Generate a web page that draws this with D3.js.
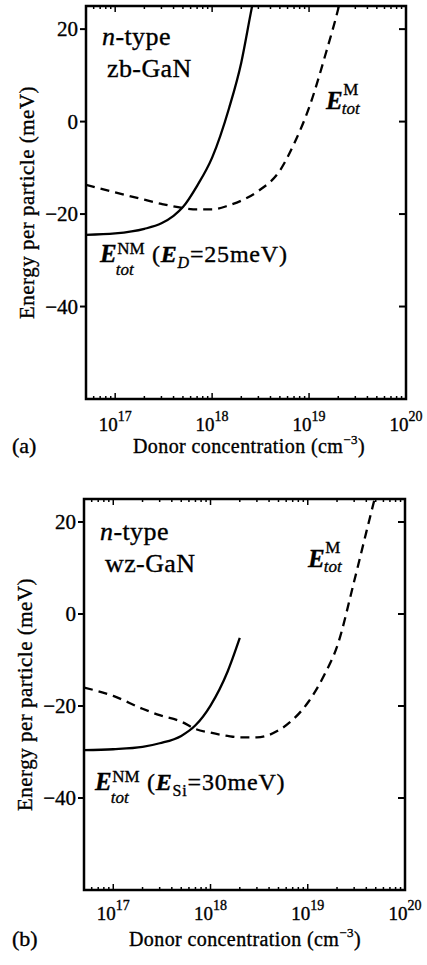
<!DOCTYPE html>
<html>
<head>
<meta charset="utf-8">
<script src="https://cdn.jsdelivr.net/npm/d3@7"></script>
<style>
  body { margin: 0; background: #fff; }
  svg text { font-family: "Liberation Serif", "DejaVu Serif", Times, serif; fill: #000; stroke: #000; stroke-width: 0.35px; }
</style>
</head>
<body>
<script>
// donor concentration (cm^-3) and energy per particle (meV)
// (a) zb-GaN
const zbNMConc   = [5e16, 1e17, 2e17, 3e17, 4e17, 5e17, 7e17, 1e18, 1.5e18, 2e18, 2.5e18, 2.7e18];
const zbNMEnergy = [-24.5, -24.2, -23.2, -22.0, -20.4, -18.5, -13.9, -7.8, 3.0, 12.8, 23.4, 27];
const zbMConc    = [5e16, 1e17, 2e17, 3e17, 5e17, 7e17, 1e18, 1.5e18, 2e18, 3e18, 5e18, 7e18, 1e19, 1.5e19, 2e19, 2.2e19];
const zbMEnergy  = [-13.7, -15.3, -16.9, -17.8, -18.7, -19.0, -19.0, -18.1, -17.1, -15.0, -10.6, -4.8, 3.0, 15.0, 24.4, 28];
// (b) wz-GaN
const wzNMConc   = [5e16, 1e17, 2e17, 3e17, 5e17, 7e17, 1e18, 1.5e18, 2e18];
const wzNMEnergy = [-29.6, -29.4, -28.9, -28.1, -26.5, -24.2, -19.9, -12.5, -5.2];
const wzMConc    = [5e16, 1e17, 2e17, 3e17, 5e17, 7e17, 1e18, 1.5e18, 2e18, 3e18, 5e18, 7e18, 1e19, 1.5e19, 2e19, 3e19, 4e19, 5e19];
const wzMEnergy  = [-16.0, -17.8, -20.6, -22.0, -23.4, -25.0, -25.8, -26.5, -26.8, -26.8, -25.3, -23.0, -19.3, -13.0, -7.1, 7.1, 17.8, 26];

const xDomain = [5e16, 1e20];
const yDomain = [-60, 25];
const yTicks = [20, 0, -20, -40];
const xDecades = [17, 18, 19, 20];

const width = 427, height = 965;
const serif = "'Liberation Serif', 'DejaVu Serif', Times, serif";

const svg = d3.select("body").append("svg")
    .attr("width", width)
    .attr("height", height)
    .attr("font-family", serif);

const panels = [
    { key: "a", tag: "(a)", material: "zb-GaN",
      nm: [zbNMConc, zbNMEnergy], m: [zbMConc, zbMEnergy],
      left: 86, right: 406, top: 6, bottom: 399,
      tickY: 431, titleY: 453, titleX: 249, ylabX: 27,
      matY: 45, mLab: [326, 109], nmLab: [100, 262], tailX: 152, tailSub: "D", subItalic: true, tailVal: "25" },
    { key: "b", tag: "(b)", material: "wz-GaN",
      nm: [wzNMConc, wzNMEnergy], m: [wzMConc, wzMEnergy],
      left: 84, right: 405, top: 499, bottom: 890,
      tickY: 920, titleY: 946, titleX: 245, ylabX: 25,
      matY: 540, mLab: [308, 567], nmLab: [95, 790], tailX: 147, tailSub: "Si", subItalic: false, tailVal: "30" }
];

panels.forEach(function(p) {
    const x = d3.scaleLog().domain(xDomain).range([p.left, p.right]);
    const y = d3.scaleLinear().domain(yDomain).range([p.bottom, p.top]);
    const g = svg.append("g").attr("class", "panel-" + p.key);

    g.append("clipPath").attr("id", "clip-" + p.key)
        .append("rect")
        .attr("x", p.left).attr("y", p.top)
        .attr("width", p.right - p.left).attr("height", p.bottom - p.top);

    // minor + major ticks on top and bottom (pointing inside)
    const minor = [];
    for (let e = 16; e < 20; e++) {
        for (let m = 1; m < 10; m++) {
            const v = m * Math.pow(10, e);
            if (v >= xDomain[0] && v <= xDomain[1]) minor.push(v);
        }
    }
    minor.push(1e20);
    minor.forEach(function(v) {
        const major = Math.abs(Math.log10(v) - Math.round(Math.log10(v))) < 1e-9;
        const len = major ? 6 : 3;
        g.append("line")
            .attr("x1", x(v)).attr("x2", x(v))
            .attr("y1", p.bottom).attr("y2", p.bottom - len)
            .attr("stroke", "#000").attr("stroke-width", 1.5);
        g.append("line")
            .attr("x1", x(v)).attr("x2", x(v))
            .attr("y1", p.top).attr("y2", p.top + len)
            .attr("stroke", "#000").attr("stroke-width", 1.5);
    });

    // y ticks: outward on the left, inward on the right
    yTicks.forEach(function(v) {
        g.append("line")
            .attr("x1", p.left - 6).attr("x2", p.left)
            .attr("y1", y(v)).attr("y2", y(v))
            .attr("stroke", "#000").attr("stroke-width", 2);
        g.append("line")
            .attr("x1", p.right - 7).attr("x2", p.right)
            .attr("y1", y(v)).attr("y2", y(v))
            .attr("stroke", "#000").attr("stroke-width", 2);
        g.append("text")
            .attr("x", p.left - 8)
            .attr("y", y(v))
            .attr("dy", "0.35em")
            .attr("text-anchor", "end")
            .attr("font-size", 21)
            .text(v < 0 ? "\u2212" + Math.abs(v) : v);
    });

    // x tick labels 10^n
    xDecades.forEach(function(d) {
        const t = g.append("text")
            .attr("x", x(Math.pow(10, d)))
            .attr("y", p.tickY)
            .attr("text-anchor", "middle")
            .attr("font-size", 19);
        t.append("tspan").text("10");
        t.append("tspan").attr("dy", -10).attr("font-size", 14).text(d);
    });

    // frame
    g.append("rect")
        .attr("x", p.left).attr("y", p.top)
        .attr("width", p.right - p.left).attr("height", p.bottom - p.top)
        .attr("fill", "none").attr("stroke", "#000").attr("stroke-width", 2.5);

    // curves
    const line = d3.line()
        .x(function(d) { return x(d[0]); })
        .y(function(d) { return y(d[1]); })
        .curve(d3.curveMonotoneX);

    const curves = g.append("g").attr("clip-path", "url(#clip-" + p.key + ")");
    curves.append("path")
        .datum(d3.zip(p.m[0], p.m[1]))
        .attr("d", line)
        .attr("fill", "none").attr("stroke", "#000")
        .attr("stroke-width", 2.3)
        .attr("stroke-dasharray", "9,6");
    curves.append("path")
        .datum(d3.zip(p.nm[0], p.nm[1]))
        .attr("d", line)
        .attr("fill", "none").attr("stroke", "#000")
        .attr("stroke-width", 2.3);

    // axis titles
    const xt = g.append("text")
        .attr("x", p.titleX).attr("y", p.titleY)
        .attr("text-anchor", "middle")
        .attr("font-size", 20)
        .attr("letter-spacing", 0.4);
    xt.append("tspan").text("Donor concentration (cm");
    xt.append("tspan").attr("dy", -9).attr("font-size", 13).text("\u22123");
    xt.append("tspan").attr("dy", 9).text(")");

    g.append("text")
        .attr("x", 12).attr("y", p.titleY)
        .attr("font-size", 22)
        .text(p.tag);

    g.append("text")
        .attr("transform", "translate(" + p.ylabX + "," + ((p.top + p.bottom) / 2) + ") rotate(-90)")
        .attr("text-anchor", "middle")
        .attr("dy", "0.35em")
        .attr("font-size", 21)
        .attr("letter-spacing", 0.5)
        .text("Energy per particle (meV)");

    // inside labels
    const nt = g.append("text")
        .attr("x", p.left + 16).attr("y", p.matY)
        .attr("font-size", 26)
        .attr("letter-spacing", 0.4);
    nt.append("tspan").attr("font-style", "italic").text("n");
    nt.append("tspan").text("-type");
    g.append("text")
        .attr("x", p.left + 21).attr("y", p.matY + 32)
        .attr("font-size", 26)
        .attr("letter-spacing", 0.4)
        .text(p.material);

    energyLabel(g, p.mLab[0], p.mLab[1], "M", -14, 5);
    energyLabel(g, p.nmLab[0], p.nmLab[1], "NM", -8, 13);

    const tail = g.append("text")
        .attr("x", p.tailX).attr("y", p.nmLab[1])
        .attr("font-size", 24)
        .attr("letter-spacing", 0.8);
    tail.append("tspan").text("(");
    tail.append("tspan").attr("font-style", "italic").attr("font-weight", "bold").text("E");
    tail.append("tspan").attr("dy", 6).attr("font-size", 16)
        .attr("font-style", p.subItalic ? "italic" : "normal").text(p.tailSub);
    tail.append("tspan").attr("dy", -6).text("=" + p.tailVal + "meV)");
});

function energyLabel(g, x0, y0, sup, supDy, subDy) {
    const E = g.append("text")
        .attr("x", x0).attr("y", y0)
        .attr("font-size", 25)
        .attr("font-style", "italic")
        .attr("font-weight", "bold")
        .text("E");
    const w = E.node().getComputedTextLength();
    g.append("text")
        .attr("x", x0 + w + 0.5).attr("y", y0 + supDy)
        .attr("font-size", 17)
        .text(sup);
    g.append("text")
        .attr("x", x0 + w - 1).attr("y", y0 + subDy)
        .attr("font-size", 17)
        .attr("font-style", "italic")
        .text("tot");
}
</script>
</body>
</html>
